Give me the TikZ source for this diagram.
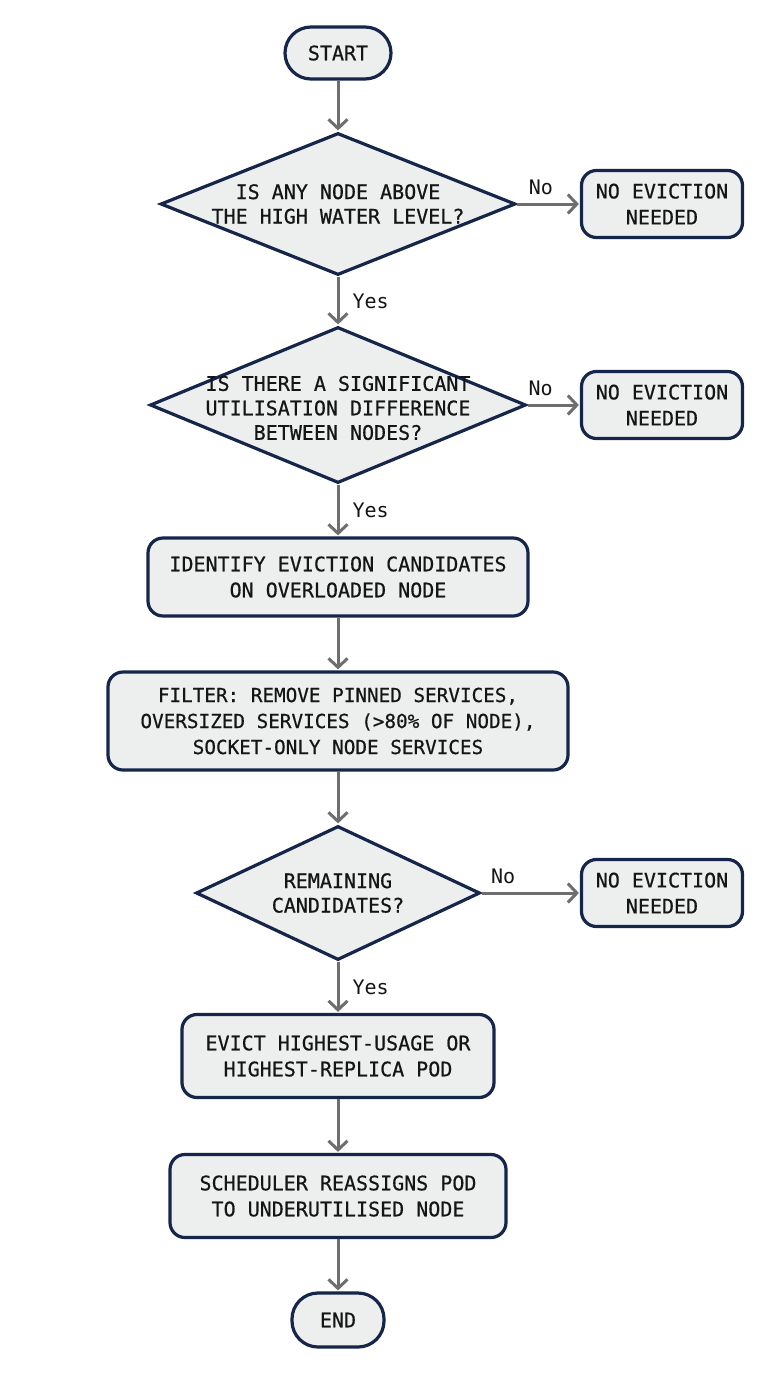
\documentclass[tikz,border=0pt]{standalone}
\usepackage{fontspec}
\setmainfont{DejaVu Sans Mono}[BoldFont=DejaVu Sans Mono, BoldFeatures={FakeBold=0.6}]
\usetikzlibrary{shapes.geometric,arrows.meta}
\definecolor{boxfill}{HTML}{EDEFEF}
\definecolor{boxline}{HTML}{15264A}
\definecolor{arrowcol}{HTML}{6E6E6E}
\definecolor{txt}{HTML}{151515}
\tikzset{
  base/.style={draw=boxline, line width=3.2pt, fill=boxfill, text=txt, inner sep=0pt, align=center,
    font=\fontsize{20}{26}\selectfont\bfseries},
  pill/.style={base, rounded corners=26pt},
  procbox/.style={base, rounded corners=15pt},
  decision/.style={draw=boxline, line width=3.2pt, fill=boxfill, diamond, inner sep=0pt},
  dtext/.style={text=txt, align=center, inner sep=0pt, font=\fontsize{20}{24.5}\selectfont\bfseries},
  arr/.style={draw=arrowcol, line width=3pt, -{Straight Barb[length=9pt,width=19pt,line width=3pt]}, shorten >=1pt},
  lbl/.style={text=txt, inner sep=0pt, font=\fontsize{20}{22}\selectfont}
}
\begin{document}
\begin{tikzpicture}[x=1pt,y=-1pt]
\useasboundingbox[fill=white] (0,0) rectangle (768,1376);
% terminals
\node[pill, minimum width=106pt, minimum height=52pt] (start) at (338,53) {START};
\node[pill, minimum width=92pt, minimum height=54pt] (end) at (338,1320) {END};
% decisions
\node[decision, minimum width=355pt, minimum height=142pt] (d1) at (338,204) {};
\node[dtext] (d1t) at (338,204) {IS ANY NODE ABOVE\\THE HIGH WATER LEVEL?};
\node[decision, minimum width=376pt, minimum height=156pt] (d2) at (338,405) {};
\node[dtext] (d2t) at (338,408) {IS THERE A SIGNIFICANT\\UTILISATION DIFFERENCE\\BETWEEN NODES?};
\node[decision, minimum width=284pt, minimum height=134pt] (d3) at (338,893) {};
\node[dtext] (d3t) at (338,893) {REMAINING\\CANDIDATES?};
% no eviction boxes
\node[procbox, minimum width=161pt, minimum height=67pt] (ne1) at (662,204) {NO EVICTION\\NEEDED};
\node[procbox, minimum width=161pt, minimum height=67pt] (ne2) at (662,405) {NO EVICTION\\NEEDED};
\node[procbox, minimum width=161pt, minimum height=67pt] (ne3) at (662,893) {NO EVICTION\\NEEDED};
% process boxes
\node[procbox, minimum width=380pt, minimum height=78pt] (ident) at (338,577) {IDENTIFY EVICTION CANDIDATES\\ON OVERLOADED NODE};
\node[procbox, minimum width=460pt, minimum height=98pt, font=\fontsize{19.3}{26}\selectfont\bfseries] (filt) at (338,721) {FILTER: REMOVE PINNED SERVICES,\\OVERSIZED SERVICES (>80\% OF NODE),\\SOCKET-ONLY NODE SERVICES};
\node[procbox, minimum width=312pt, minimum height=83pt] (evict) at (338,1056) {EVICT HIGHEST-USAGE OR\\HIGHEST-REPLICA POD};
\node[procbox, minimum width=336pt, minimum height=83pt] (sched) at (338,1196) {SCHEDULER REASSIGNS POD\\TO UNDERUTILISED NODE};
% connectors
\draw[arr] (start) -- (d1);
\draw[arr] (d1) -- node[lbl, anchor=west, xshift=13pt] (y1) {Yes} (d2);
\draw[arr] (d2) -- node[lbl, anchor=west, xshift=13pt] (y2) {Yes} (ident);
\draw[arr] (ident) -- (filt);
\draw[arr] (filt) -- (d3);
\draw[arr] (d3) -- node[lbl, anchor=west, xshift=13pt] (y3) {Yes} (evict);
\draw[arr] (evict) -- (sched);
\draw[arr] (sched) -- (end);
\draw[arr] (d1.east) -- (ne1.west) node[lbl, pos=0.38, above=8pt] (n1) {No};
\draw[arr] (d2.east) -- (ne2.west) node[lbl, pos=0.25, above=8pt] (n2) {No};
\draw[arr] (d3.east) -- (ne3.west) node[lbl, pos=0.22, above=8pt] (n3) {No};
\end{tikzpicture}
\end{document}
